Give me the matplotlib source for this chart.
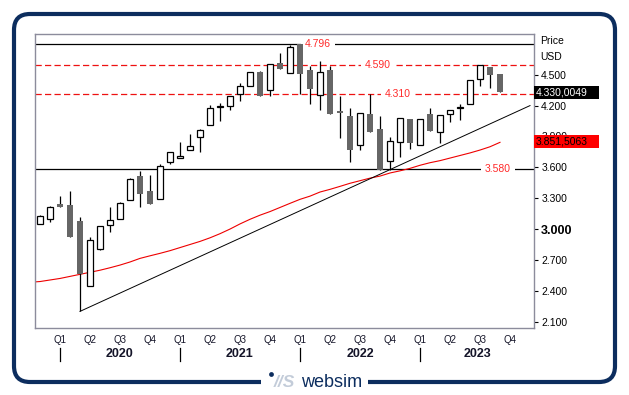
import matplotlib
matplotlib.use("Agg")
import matplotlib.pyplot as plt
import matplotlib.transforms as mtransforms
from matplotlib.patches import FancyBboxPatch, Rectangle, Circle
import numpy as np

plt.rcParams['font.family'] = ['Liberation Sans', 'DejaVu Sans']

# ---------------- data ----------------
months = ["2019-11", "2019-12",
          "2020-01", "2020-02", "2020-03", "2020-04", "2020-05", "2020-06",
          "2020-07", "2020-08", "2020-09", "2020-10", "2020-11", "2020-12",
          "2021-01", "2021-02", "2021-03", "2021-04", "2021-05", "2021-06",
          "2021-07", "2021-08", "2021-09", "2021-10", "2021-11", "2021-12",
          "2022-01", "2022-02", "2022-03", "2022-04", "2022-05", "2022-06",
          "2022-07", "2022-08", "2022-09", "2022-10", "2022-11", "2022-12",
          "2023-01", "2023-02", "2023-03", "2023-04", "2023-05", "2023-06",
          "2023-07", "2023-08", "2023-09"]
opens = [3.046, 3.095,
         3.243, 3.234, 3.078, 2.447, 2.809, 3.036,
         3.095, 3.279, 3.516, 3.367, 3.289, 3.649,
         3.688, 3.765, 3.892, 4.008, 4.185, 4.193,
         4.315, 4.387, 4.526, 4.348, 4.614, 4.514,
         4.796, 4.546, 4.300, 4.549, 4.147, 4.099,
         3.814, 4.118, 3.969, 3.664, 3.843, 4.066,
         3.817, 4.118, 3.940, 4.115, 4.180, 4.212,
         4.458, 4.575, 4.510]
highs = [3.140, 3.227,
         3.321, 3.370, 3.114, 2.920, 3.027, 3.214,
         3.266, 3.496, 3.567, 3.525, 3.632, 3.746,
         3.846, 3.924, 3.972, 4.203, 4.225, 4.290,
         4.419, 4.526, 4.539, 4.601, 4.708, 4.789,
         4.796, 4.588, 4.636, 4.585, 4.296, 4.173,
         4.125, 4.310, 4.102, 3.892, 4.076, 4.066,
         4.066, 4.176, 4.105, 4.160, 4.212, 4.446,
         4.591, 4.575, 4.510]
lows = [3.046, 3.071,
        3.211, 2.926, 2.200, 2.447, 2.796, 2.974,
        3.095, 3.279, 3.217, 3.246, 3.289, 3.635,
        3.688, 3.765, 3.752, 4.008, 4.053, 4.160,
        4.247, 4.387, 4.293, 4.296, 4.558, 4.514,
        4.310, 4.218, 4.160, 4.121, 3.888, 3.655,
        3.771, 3.946, 3.574, 3.574, 3.703, 3.775,
        3.817, 3.956, 3.839, 4.043, 4.057, 4.212,
        4.393, 4.371, 4.330]
closes = [3.124, 3.211,
          3.211, 2.926, 2.560, 2.894, 3.027, 3.085,
          3.250, 3.483, 3.344, 3.246, 3.610, 3.746,
          3.707, 3.804, 3.960, 4.173, 4.195, 4.290,
          4.387, 4.526, 4.293, 4.601, 4.558, 4.766,
          4.510, 4.361, 4.523, 4.121, 4.128, 3.771,
          4.125, 3.946, 3.574, 3.859, 4.076, 3.833,
          4.066, 3.956, 4.105, 4.160, 4.190, 4.446,
          4.591, 4.500, 4.330]

# moving average line, one reading per month from 2019-10 to 2023-09
ma_months = ["2019-10"] + months
ma_values = [2.483, 2.490, 2.505,
             2.520, 2.540, 2.560, 2.580, 2.600, 2.624,
             2.650, 2.680, 2.715, 2.740, 2.764, 2.790,
             2.820, 2.850, 2.880, 2.915, 2.955, 3.000,
             3.050, 3.095, 3.135, 3.170, 3.210, 3.250,
             3.289, 3.320, 3.360, 3.386, 3.415, 3.445,
             3.470, 3.495, 3.515, 3.545, 3.566, 3.590,
             3.620, 3.645, 3.665, 3.690, 3.715, 3.740,
             3.768, 3.800, 3.843]

# trend line (from the March 2020 low to the right edge)
trend_months = ["2020-03", "2023-12"]
trend_values = [2.200, 4.200]

solid_levels = [4.796, 3.580]
dashed_levels = [4.590, 4.310]
level_label_months = {4.796: "2022-03", 4.590: "2022-09", 4.310: "2022-11", 3.580: "2023-09"}

yticks = [2.1, 2.4, 2.7, 3.0, 3.3, 3.6, 3.9, 4.2, 4.5]
ytick_labels = ["2.100", "2.400", "2.700", "3.000", "3.300", "3.600", "3.900", "4.200", "4.500"]
quarter_labels = ["Q1", "Q2", "Q3", "Q4"]
years = [2020, 2021, 2022, 2023]

last_price = 4.3300049
last_price_label = "4.330,0049"
ma_last = 3.8515063
ma_last_label = "3.851,5063"


def midx(s):
    y, m = s.split("-")
    return (int(y) - 2020) * 12 + int(m) - 1


xs = np.array([midx(s) for s in months])
ma_x = np.array([midx(s) for s in ma_months])
W, H = 629, 395

fig = plt.figure(figsize=(W / 100, H / 100), dpi=100)
fig.patch.set_facecolor("white")

# overlay for frame and logo (pixel coords)
ov = fig.add_axes([0, 0, 1, 1], zorder=0)
ov.set_xlim(0, W)
ov.set_ylim(H, 0)
ov.axis("off")
navy = "#0c2d5e"
ov.add_patch(FancyBboxPatch((14, 14), 601, 368,
                            boxstyle="round,pad=0,rounding_size=16",
                            fc="none", ec=navy, lw=3.0))
ov.add_patch(Rectangle((261, 370), 107, 22, fc="white", ec="none", zorder=3))
ov.add_patch(Circle((271.5, 374.5), 2.4, fc=navy, ec="none", zorder=4))
ov.text(274, 387, "//S", color="#c3ccd9", fontsize=12.5, fontweight="bold",
        fontstyle="italic", ha="left", va="baseline", zorder=4)
ov.text(301, 387, "websim", color=navy, fontsize=13, ha="left",
        va="baseline", zorder=4)

# main axes
left, right, top, bottom = 35, 534, 34.3, 328.3
ax = fig.add_axes([left / W, (H - bottom) / H, (right - left) / W, (bottom - top) / H], zorder=1)
xmin, xmax = -2.5, 47.4
ax.set_xlim(xmin, xmax)
ax.set_ylim(2.0355, 4.893)
for s in ax.spines.values():
    s.set_color("#8c8c9c")
    s.set_linewidth(1.0)

red = "#ff2a2a"
# levels
for lv in solid_levels:
    ax.axhline(lv, color="black", lw=0.9, zorder=2)
for lv in dashed_levels:
    ax.axhline(lv, color="#ee1111", lw=0.9, ls=(0, (5, 2.6)), zorder=2)
for lv, mlab in level_label_months.items():
    ax.text(midx(mlab) - 0.2, lv, f"{lv:.3f}", color=red, fontsize=7.5,
            ha="center", va="center", zorder=3,
            bbox=dict(boxstyle="square,pad=0.35", fc="white", ec="none"))

# moving average and trend line
ax.plot(ma_x, ma_values, color="#ee0000", lw=0.8, zorder=2)
ax.plot([midx(s) for s in trend_months], trend_values, color="black", lw=0.7, zorder=2)

# candles
o = np.array(opens); c = np.array(closes); h = np.array(highs); l = np.array(lows)
ax.vlines(xs, l, h, color="black", lw=0.9, zorder=4)
up = c >= o
body_bot = np.minimum(o, c)
body_h = np.maximum(np.abs(c - o), 0.008)
ax.bar(xs[up], body_h[up], bottom=body_bot[up], width=0.6, color="white",
       edgecolor="black", linewidth=0.9, zorder=5)
ax.bar(xs[~up], body_h[~up], bottom=body_bot[~up], width=0.62, color="#666666",
       edgecolor="none", zorder=5)

# y axis on the right
ax.yaxis.tick_right()
ax.set_yticks(yticks)
ax.set_yticklabels(ytick_labels)
ax.tick_params(axis="y", length=3.2, width=0.8, color="black", labelsize=7.5, pad=2)
for t in ax.get_yticklabels():
    if t.get_text() == "3.000":
        t.set_fontweight("bold")
        t.set_fontsize(9)

# x axis quarter labels
qpos = []
qlab = []
for yi, yr in enumerate(years):
    for qi in range(4):
        qpos.append(yi * 12 + qi * 3)
        qlab.append(quarter_labels[qi])
ax.set_xticks(qpos)
ax.set_xticklabels(qlab)
ax.tick_params(axis="x", length=0, labelsize=7, pad=4.5, labelcolor="#141428")

bl = mtransforms.blended_transform_factory(ax.transData, ax.transAxes)
for yi, yr in enumerate(years):
    start = yi * 12
    end = min(start + 12, xmax)
    ax.plot([start, start], [-0.067, -0.11], color="black", lw=0.9,
            transform=bl, clip_on=False)
    ax.text((start + end) / 2, -0.086, str(yr), transform=bl, ha="center",
            va="center", fontsize=9, fontweight="bold", color="#141428")

# price boxes
bt = mtransforms.blended_transform_factory(ax.transAxes, ax.transData)
bw = (599 - 534) / (right - left)
bh = 13 / ((bottom - top) / (4.893 - 2.0355))
ax.add_patch(Rectangle((1.0, last_price - bh / 2), bw, bh, transform=bt,
                       fc="black", ec="none", clip_on=False, zorder=6))
ax.text(1.003, last_price, last_price_label, transform=bt, color="white",
        fontsize=7.5, ha="left", va="center", zorder=7, clip_on=False)
ax.add_patch(Rectangle((1.0, ma_last - bh / 2), bw, bh, transform=bt,
                       fc="#ff0000", ec="none", clip_on=False, zorder=6))
ax.text(1.003, ma_last, ma_last_label, transform=bt, color="black",
        fontsize=7.5, ha="left", va="center", zorder=7, clip_on=False)

ax.text(1.012, 0.977, "Price", transform=ax.transAxes, fontsize=7.5,
        ha="left", va="center")
ax.text(1.012, 0.923, "USD", transform=ax.transAxes, fontsize=7.5,
        ha="left", va="center")

fig.savefig("out.png", dpi=100, facecolor="white")
